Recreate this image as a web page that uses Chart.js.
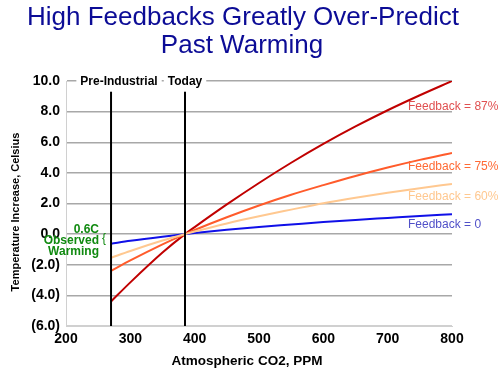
<!DOCTYPE html>
<html>
<head>
<meta charset="utf-8">
<script src="https://cdn.jsdelivr.net/npm/chart.js@4"></script>
<style>
    body { margin: 0; background: #fff; }
    #wrap { width: 500px; height: 373px; }
</style>
</head>
<body>
<div id="wrap"><canvas id="feedbackChart" width="500" height="373"></canvas></div>
<script>
// CO2 levels (ppm) and temperature change (C)
const co2 = [270, 300, 350, 385, 400, 450, 500, 550, 600, 650, 700, 750, 800];
const feedback87 = [-4.4, -3.15, -1.2, 0, 0.46, 1.94, 3.34, 4.66, 5.89, 7.03, 8.09, 9.07, 10.0];
const feedback75 = [-2.4, -1.72, -0.67, 0, 0.27, 1.1, 1.87, 2.57, 3.2, 3.8, 4.35, 4.85, 5.3];
const feedback60 = [-1.55, -1.1, -0.42, 0, 0.17, 0.7, 1.17, 1.6, 2.02, 2.38, 2.7, 3.0, 3.28];
const feedback0 = [-0.63, -0.44, -0.17, 0, 0.07, 0.28, 0.47, 0.63, 0.79, 0.93, 1.06, 1.19, 1.3];

const markerCo2 = [270, 385];
const markerLabels = ["Pre-Industrial", "Today"];
const seriesLabels = ["Feedback = 87%", "Feedback = 75%", "Feedback = 60%", "Feedback = 0"];
const yTicks = [-6, -4, -2, 0, 2, 4, 6, 8, 10];

const FONT = "'Liberation Sans', Arial, sans-serif";

function pts(values) {
    return co2.map((c, i) => ({ x: c, y: values[i] }));
}

function series(values, color) {
    return {
        data: pts(values),
        borderColor: color,
        borderWidth: 2,
        pointRadius: 0,
        fill: false,
        cubicInterpolationMode: "monotone"
    };
}

function marker(c) {
    return {
        data: [{ x: c, y: -6 }, { x: c, y: 9.3 }],
        borderColor: "#000",
        borderWidth: 2,
        pointRadius: 0,
        fill: false
    };
}

const extras = {
    id: "extras",
    afterDraw(chart) {
        const ctx = chart.ctx;
        const xs = chart.scales.x;
        const ys = chart.scales.y;
        ctx.save();

        // title
        ctx.fillStyle = "#0c0c96";
        ctx.font = "26px " + FONT;
        ctx.textAlign = "center";
        ctx.textBaseline = "alphabetic";
        ctx.fillText("High Feedbacks Greatly Over-Predict", 243, 25);
        ctx.fillText("Past Warming", 242, 53);

        // axis titles
        ctx.fillStyle = "#000";
        ctx.font = "bold 13.5px " + FONT;
        ctx.fillText("Atmospheric CO2, PPM", 247, 365);

        ctx.save();
        ctx.translate(16, 212);
        ctx.rotate(-Math.PI / 2);
        ctx.font = "bold 11px " + FONT;
        ctx.textBaseline = "middle";
        ctx.fillText("Temperature Increase, Celsius", 0, 0);
        ctx.restore();

        // marker labels on the top grid line
        ctx.font = "bold 12px " + FONT;
        ctx.textBaseline = "middle";
        const shift = [8, 0];
        markerLabels.forEach((t, i) => {
            const x = xs.getPixelForValue(markerCo2[i]) + shift[i];
            const w = ctx.measureText(t).width;
            ctx.fillStyle = "#fff";
            ctx.fillRect(x - w / 2 - 4, ys.getPixelForValue(10) - 7, w + 8, 14);
            ctx.fillStyle = "#000";
            ctx.fillText(t, x, ys.getPixelForValue(10) + 1);
        });

        // series labels
        const labelColors = ["#e05050", "#ff6a35", "#ffc890", "#5050c8"];
        const labelY = [107, 167, 197, 225];
        ctx.font = "12px " + FONT;
        ctx.textAlign = "left";
        seriesLabels.forEach((t, i) => {
            ctx.fillStyle = labelColors[i];
            ctx.fillText(t, 408, labelY[i]);
        });

        // observed warming note
        ctx.fillStyle = "#108a10";
        ctx.font = "bold 12px " + FONT;
        ctx.textAlign = "right";
        ctx.fillText("0.6C", 99, 230);
        ctx.fillText("Observed", 99, 241);
        ctx.fillText("Warming", 99, 252);
        ctx.font = "12px " + FONT;
        ctx.textAlign = "left";
        ctx.fillText("{", 102, 239);

        ctx.restore();
    }
};

new Chart(feedbackChart, {
    type: "line",
    data: {
        datasets: [
            marker(markerCo2[0]),
            marker(markerCo2[1]),
            series(feedback60, "#ffc890"),
            series(feedback75, "#ff5b2b"),
            series(feedback0, "#1010e8"),
            series(feedback87, "#c00000")
        ]
    },
    options: {
        responsive: false,
        animation: false,
        layout: { padding: { left: 0, top: 81, right: 48, bottom: 0 } },
        plugins: {
            legend: { display: false },
            tooltip: { enabled: false }
        },
        scales: {
            x: {
                type: "linear",
                min: 200,
                max: 800,
                afterFit(scale) { scale.height = 47; },
                ticks: {
                    stepSize: 100,
                    padding: 5,
                    color: "#000",
                    font: { family: FONT, size: 14, weight: "bold" },
                    maxRotation: 0
                },
                grid: { display: false, drawTicks: false },
                border: { color: "#d0d0d0", width: 1 }
            },
            y: {
                min: -6,
                max: 10,
                afterFit(scale) { scale.width = 66; },
                afterBuildTicks(scale) { scale.ticks = yTicks.map(v => ({ value: v })); },
                ticks: {
                    padding: 6,
                    color: "#000",
                    font: { family: FONT, size: 14, weight: "bold" },
                    callback: v => v < 0 ? "(" + (-v).toFixed(1) + ")" : v.toFixed(1)
                },
                grid: {
                    drawTicks: false,
                    color: c => c.tick && c.tick.value === -6 ? "#d0d0d0" : "#a8a8a8",
                    lineWidth: 1.5
                },
                border: { color: "#d0d0d0", width: 1 }
            }
        }
    },
    plugins: [extras]
});
</script>
</body>
</html>
